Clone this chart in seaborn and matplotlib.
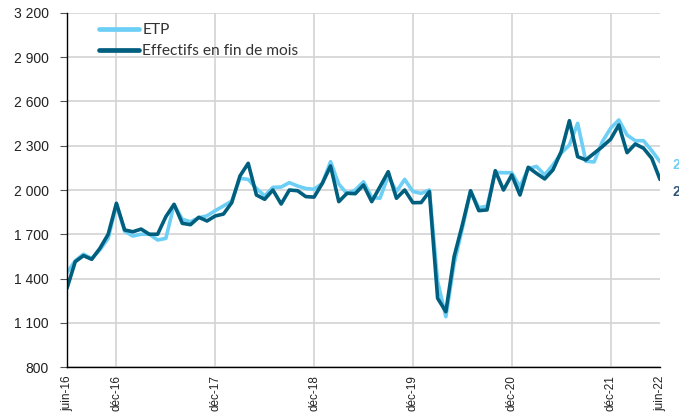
import matplotlib
matplotlib.use("Agg")
import matplotlib.pyplot as plt
import seaborn as sns
import pandas as pd
import numpy as np

# Monthly data, juin-16 .. juin-22 (73 months)
etp = [1440, 1520, 1565, 1535, 1595, 1672, 1900, 1720, 1688, 1700, 1700, 1661,
       1672, 1900, 1801, 1785, 1812, 1825, 1860, 1892, 1925, 2079, 2072, 2011,
       1960, 2018, 2020, 2050, 2027, 2010, 2005, 2045, 2192, 2040, 1975, 2000,
       2056, 1950, 1944, 2095, 1990, 2072, 1990, 1977, 2000, 1380, 1141, 1500,
       1740, 1990, 1880, 1890, 2120, 2117, 2117, 2022, 2145, 2160, 2102, 2170,
       2250, 2305, 2452, 2195, 2190, 2328, 2418, 2475, 2373, 2334, 2334, 2267,
       2192]
effectifs = [1334, 1514, 1555, 1530, 1605, 1700, 1910, 1729, 1717, 1735, 1700, 1700,
             1819, 1903, 1774, 1765, 1815, 1790, 1824, 1837, 1914, 2095, 2181, 1966,
             1937, 2000, 1905, 2000, 1995, 1955, 1952, 2045, 2163, 1921, 1978, 1975,
             2034, 1921, 2022, 2124, 1944, 2000, 1914, 1915, 1989, 1266, 1175, 1548,
             1763, 1995, 1860, 1865, 2131, 2000, 2102, 1966, 2154, 2113, 2075, 2136,
             2260, 2470, 2226, 2204, 2249, 2294, 2344, 2441, 2253, 2312, 2283, 2215,
             2072]
series_names = ["ETP", "Effectifs en fin de mois"]
tick_labels = ["juin-16", "déc-16", "déc-17", "déc-18", "déc-19", "déc-20", "déc-21", "juin-22"]
tick_months = [0, 6, 18, 30, 42, 54, 66, 72]
y_ticks = [800, 1100, 1400, 1700, 2000, 2300, 2600, 2900, 3200]
end_labels = ["2 190", "2 070"]

months = np.arange(len(etp))
df = pd.concat([
    pd.DataFrame({"mois": months, "valeur": etp, "serie": series_names[0]}),
    pd.DataFrame({"mois": months, "valeur": effectifs, "serie": series_names[1]}),
])

sns.set_style("white")
plt.rcParams["font.family"] = ["Liberation Sans", "DejaVu Sans"]

light = "#6DCFF6"
dark = "#005F7E"

fig = plt.figure(figsize=(6.79, 4.15), dpi=100)
ax = fig.add_axes([67/679, 1-367/415, (660-67)/679, (367-13)/415])

sns.lineplot(data=df, x="mois", y="valeur", hue="serie",
             palette={series_names[0]: light, series_names[1]: dark},
             linewidth=2.6, ax=ax, legend=True)

ax.set_xlim(0, 72)
ax.set_ylim(800, 3200)
ax.set_yticks(y_ticks)
ax.set_yticklabels([f"{v:,}".replace(",", " ") for v in y_ticks], fontsize=10, color="#222222")
ax.set_xticks(tick_months)
ax.set_xticklabels(tick_labels, rotation=90, fontsize=8.5, color="#222222")
ax.set_xticks(months, minor=True)
ax.tick_params(axis="x", which="major", length=4, width=0.8, color="#555555", pad=2)
ax.tick_params(axis="x", which="minor", length=2, width=0.6, color="#999999")
ax.tick_params(axis="y", which="major", length=5, width=0.8, color="#555555", pad=8, left=True)
ax.set_xlabel("")
ax.set_ylabel("")

ax.grid(axis="y", color="#D3D3D3", linewidth=1.2)
ax.grid(axis="x", visible=False)
for m in tick_months[1:-1]:
    ax.axvline(m, color="#D3D3D3", linewidth=1.2, zorder=0)
ax.set_axisbelow(True)

for s in ["top", "right"]:
    ax.spines[s].set_visible(False)
for s in ["left", "bottom"]:
    ax.spines[s].set_color("#000000")
    ax.spines[s].set_linewidth(1.0)

leg = ax.legend(loc="upper left", bbox_to_anchor=(0.03, 1.01), frameon=False,
                handlelength=2.6, handletextpad=0.2, labelspacing=0.45,
                prop={"family": ["Lato", "DejaVu Sans"], "size": 11.2})
for t in leg.get_texts():
    t.set_color("#333333")
for h in leg.get_lines():
    h.set_linewidth(3.4)

ax.text(73.6, 2172, end_labels[0], color=light, fontsize=10, fontweight="bold",
        va="center", ha="left", clip_on=False)
ax.text(73.6, 1986, end_labels[1], color="#34557A", fontsize=10, fontweight="bold",
        va="center", ha="left", clip_on=False)

fig.savefig("out.png", dpi=100)
